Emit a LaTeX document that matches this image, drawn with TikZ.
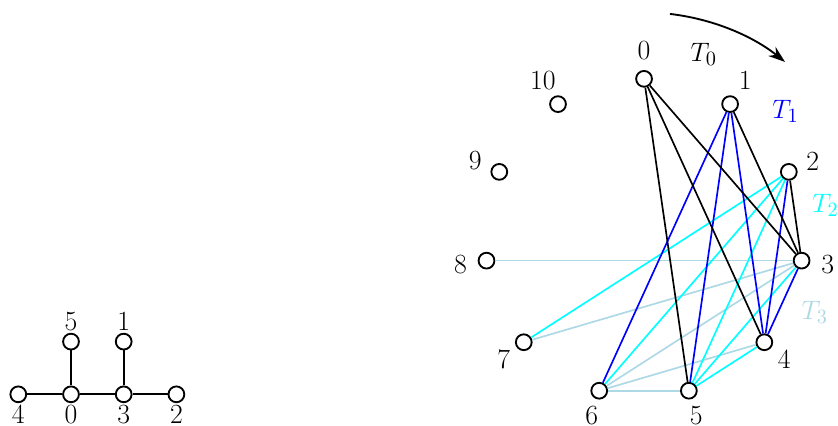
\documentclass[tikz,border=0pt]{standalone}
\usepackage{tikz}
\usetikzlibrary{arrows.meta,positioning}
\usepackage{xcolor}
\definecolor{treeblack}{RGB}{0,0,0}
\definecolor{treeblue} {RGB}{0,0,255}
\definecolor{treecyan} {RGB}{0,255,255}
\definecolor{treelight}{RGB}{173,216,230}

\begin{document}
\begin{tikzpicture}[
    node distance=1.0cm and 1.0cm, on grid,
    vtx/.style={draw, circle, line width=1pt, fill=white, inner sep=0pt, minimum size=0.3cm},
    lbl/.style={font=\fontsize{15}{18}\selectfont, inner sep=1pt},
    edge/.style={line width=0.9pt},
    arrow/.style={-{Stealth[length=3.2mm, width=2.2mm]}, line width=1pt}
]
    \useasboundingbox (-1.347,-0.583) rectangle (14.553,7.482);

    % Tree T on the left
    \node[vtx, label={[lbl]below:0}] (t0) at (0,0) {};
    \node[vtx, label={[lbl]below:4}] (t4) [left=of t0] {};
    \node[vtx, label={[lbl]below:3}] (t3) [right=of t0] {};
    \node[vtx, label={[lbl]below:2}] (t2) [right=of t3] {};
    \node[vtx, label={[lbl]above:5}] (t5) [above=of t0] {};
    \node[vtx, label={[lbl]above:1}] (t1) [above=of t3] {};

    \draw[edge] (t4) -- (t0);
    \draw[edge] (t0) -- (t3);
    \draw[edge] (t3) -- (t2);
    \draw[edge] (t0) -- (t5);
    \draw[edge] (t3) -- (t1);

    % Eleven vertices on a circle (decomposition of K_11)
    \begin{scope}[shift={(10.873,2.966)}]
    \node[vtx] (c0)  at (90:3.02) {};
    \node[vtx] (c1)  at (57.27:3.02) {};
    \node[vtx] (c2)  at (24.55:3.02) {};
    \node[vtx] (c3)  at (-8.18:3.02) {};
    \node[vtx] (c4)  at (-40.91:3.02) {};
    \node[vtx] (c5)  at (-73.64:3.02) {};
    \node[vtx] (c6)  at (-106.36:3.02) {};
    \node[vtx] (c7)  at (-139.09:3.02) {};
    \node[vtx] (c8)  at (-171.82:3.02) {};
    \node[vtx] (c9)  at (155.45:3.02) {};
    \node[vtx] (c10) at (122.73:3.02) {};

    % vertex numbers
    \node[lbl] (n0)  at (90:3.55) {0};
    \node[lbl] (n1)  at (57.27:3.55) {1};
    \node[lbl] (n2)  at (24.55:3.52) {2};
    \node[lbl] (n3)  at (-8.18:3.52) {3};
    \node[lbl] (n4)  at (-40.91:3.52) {4};
    \node[lbl] (n5)  at (-73.64:3.52) {5};
    \node[lbl] (n6)  at (-106.36:3.52) {6};
    \node[lbl] (n7)  at (-139.09:3.52) {7};
    \node[lbl] (n8)  at (-171.82:3.52) {8};
    \node[lbl] (n9)  at (155.45:3.52) {9};
    \node[lbl] (n10) at (122.73:3.55) {10};

    % Tree labels
    \node[lbl, text=treeblack] (lt0) at (72:3.67) {$T_0$};
    \node[lbl, text=treeblue]  (lt1) at (41.8:3.6) {$T_1$};
    \node[lbl, text=treecyan]  (lt2) at (10.3:3.5) {$T_2$};
    \node[lbl, text=treelight] (lt3) at (-23.4:3.53) {$T_3$};

    % Rotation arrow
    \coordinate (arcstart) at (83.4:4.28);
    \draw[arrow] (arcstart) arc[start angle=83.4, end angle=51.3, radius=4.28];
    \end{scope}

    % T_3 (light blue)
    \draw[edge, treelight] (c3) -- (c8);
    \draw[edge, treelight] (c3) -- (c7);
    \draw[edge, treelight] (c3) -- (c6);
    \draw[edge, treelight] (c6) -- (c4);
    \draw[edge, treelight] (c6) -- (c5);

    % T_2 (cyan)
    \draw[edge, treecyan] (c2) -- (c7);
    \draw[edge, treecyan] (c2) -- (c6);
    \draw[edge, treecyan] (c2) -- (c5);
    \draw[edge, treecyan] (c5) -- (c3);
    \draw[edge, treecyan] (c5) -- (c4);

    % T_1 (blue)
    \draw[edge, treeblue] (c1) -- (c6);
    \draw[edge, treeblue] (c1) -- (c5);
    \draw[edge, treeblue] (c1) -- (c4);
    \draw[edge, treeblue] (c4) -- (c2);
    \draw[edge, treeblue] (c4) -- (c3);

    % T_0 (black)
    \draw[edge, treeblack] (c0) -- (c5);
    \draw[edge, treeblack] (c0) -- (c4);
    \draw[edge, treeblack] (c0) -- (c3);
    \draw[edge, treeblack] (c3) -- (c1);
    \draw[edge, treeblack] (c3) -- (c2);
\end{tikzpicture}
\end{document}
